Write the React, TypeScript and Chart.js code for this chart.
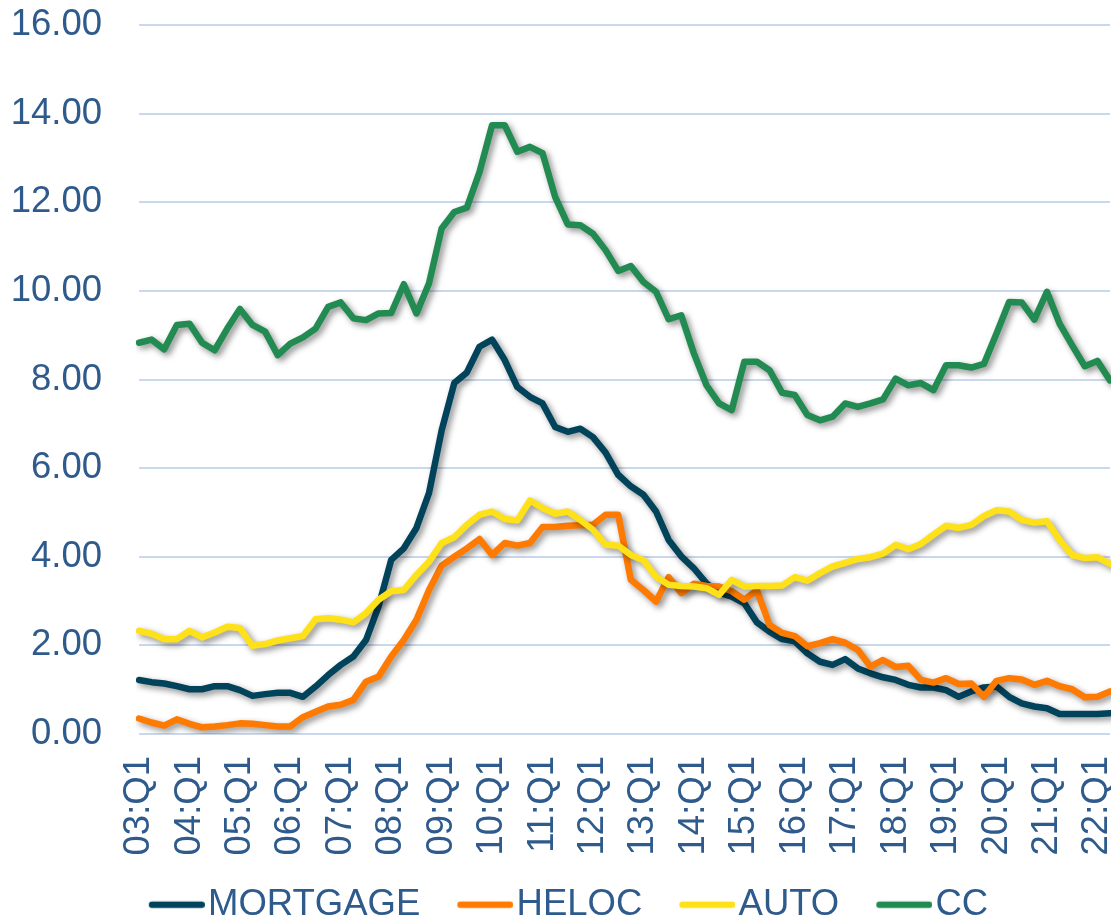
import { useEffect, useRef } from "react";
import { Chart, registerables } from "chart.js";

Chart.register(...registerables);

const years = ["03", "04", "05", "06", "07", "08", "09", "10", "11", "12", "13", "14", "15", "16", "17", "18", "19", "20", "21", "22"];
const quarterNames = ["Q1", "Q2", "Q3", "Q4"];
const categories = years.flatMap((y) => quarterNames.map((q) => `${y}:${q}`)).slice(0, 78);

const seriesNames = ["MORTGAGE", "HELOC", "AUTO", "CC"];

const mortgage = [
  1.22, 1.17, 1.14, 1.08, 1.01, 1.01, 1.08, 1.08, 0.99, 0.86,
  0.90, 0.93, 0.93, 0.84, 1.07, 1.33, 1.56, 1.75, 2.12, 2.88,
  3.93, 4.19, 4.65, 5.44, 6.85, 7.92, 8.16, 8.74, 8.90, 8.44,
  7.83, 7.61, 7.46, 6.93, 6.82, 6.89, 6.70, 6.35, 5.85, 5.59,
  5.40, 5.02, 4.38, 4.01, 3.74, 3.40, 3.19, 3.10, 2.95, 2.52,
  2.31, 2.14, 2.09, 1.82, 1.63, 1.56, 1.69, 1.48, 1.37, 1.28,
  1.22, 1.11, 1.05, 1.05, 0.99, 0.84, 0.96, 1.05, 1.07, 0.84,
  0.69, 0.62, 0.58, 0.45, 0.45, 0.45, 0.45, 0.47,
];

const heloc = [
  0.35, 0.26, 0.19, 0.33, 0.23, 0.15, 0.17, 0.20, 0.24, 0.23,
  0.20, 0.17, 0.17, 0.38, 0.50, 0.62, 0.66, 0.77, 1.18, 1.30,
  1.75, 2.12, 2.58, 3.25, 3.80, 4.00, 4.19, 4.40, 4.04, 4.31,
  4.25, 4.31, 4.67, 4.67, 4.70, 4.71, 4.72, 4.95, 4.95, 3.48,
  3.25, 2.99, 3.54, 3.18, 3.39, 3.34, 3.33, 3.22, 3.03, 3.24,
  2.46, 2.28, 2.21, 1.98, 2.05, 2.14, 2.06, 1.90, 1.52, 1.67,
  1.51, 1.54, 1.22, 1.16, 1.26, 1.13, 1.14, 0.84, 1.20, 1.26,
  1.23, 1.11, 1.20, 1.08, 1.01, 0.83, 0.84, 0.96,
];

const auto = [
  2.33, 2.26, 2.14, 2.14, 2.33, 2.18, 2.29, 2.42, 2.39, 1.99,
  2.03, 2.11, 2.16, 2.21, 2.59, 2.61, 2.58, 2.52, 2.73, 3.03,
  3.22, 3.25, 3.59, 3.89, 4.31, 4.44, 4.72, 4.95, 5.02, 4.85,
  4.82, 5.27, 5.10, 4.97, 5.02, 4.83, 4.61, 4.27, 4.25, 4.04,
  3.92, 3.55, 3.37, 3.34, 3.33, 3.29, 3.14, 3.48, 3.33, 3.34,
  3.34, 3.35, 3.54, 3.46, 3.63, 3.78, 3.86, 3.95, 3.99, 4.07,
  4.27, 4.17, 4.29, 4.50, 4.70, 4.65, 4.72, 4.92, 5.05, 5.02,
  4.83, 4.77, 4.80, 4.38, 4.04, 3.97, 3.99, 3.84,
];

const cc = [
  8.83, 8.90, 8.68, 9.23, 9.26, 8.83, 8.66, 9.15, 9.59, 9.23,
  9.08, 8.55, 8.81, 8.95, 9.15, 9.64, 9.74, 9.38, 9.34, 9.49,
  9.50, 10.15, 9.49, 10.17, 11.41, 11.78, 11.88, 12.68, 13.74, 13.74,
  13.14, 13.25, 13.11, 12.12, 11.50, 11.48, 11.29, 10.92, 10.45, 10.56,
  10.20, 9.98, 9.36, 9.45, 8.59, 7.87, 7.46, 7.31, 8.40, 8.40,
  8.21, 7.70, 7.65, 7.20, 7.08, 7.16, 7.46, 7.38, 7.46, 7.55,
  8.02, 7.87, 7.92, 7.76, 8.32, 8.32, 8.27, 8.35, 9.04, 9.75,
  9.74, 9.35, 9.98, 9.26, 8.77, 8.30, 8.42, 7.98,
];

const yTicks = [0, 2, 4, 6, 8, 10, 12, 14, 16];

const seriesValues = [mortgage, heloc, auto, cc];
const seriesColors = ["#00435B", "#FF7A00", "#FFE11A", "#228B52"];
const textColor = "#2F5B8C";
const gridColor = "#C9D8EC";
const fontFamily = "'Liberation Sans', Arial, Helvetica, sans-serif";
const FONT_SIZE = 36.5;

const LINE_W = 6.5;

// legend marker: box layout width 68, visible line occupies x+27 .. x+83
const LEG_BOX = 68;
const LEG_IMG_W = 98;
const LEG_LINE_START = 42;

function makeLegendImage(color: string): HTMLCanvasElement {
  const c = document.createElement("canvas");
  c.width = LEG_IMG_W;
  c.height = 10;
  const g = c.getContext("2d")!;
  g.strokeStyle = color;
  g.lineWidth = LINE_W;
  g.lineCap = "round";
  g.beginPath();
  g.moveTo(LEG_LINE_START + LINE_W / 2, 5);
  g.lineTo(LEG_IMG_W - LINE_W / 2, 5);
  g.stroke();
  return c;
}

const shadowPlugin = {
  id: "lineShadow",
  beforeDatasetDraw(chart: any) {
    const ctx = chart.ctx;
    ctx.save();
    ctx.shadowColor = "rgba(0,0,0,0.45)";
    ctx.shadowBlur = 6;
    ctx.shadowOffsetX = 3;
    ctx.shadowOffsetY = 3;
  },
  afterDatasetDraw(chart: any) {
    chart.ctx.restore();
  },
};

export default function App() {
  const canvasRef = useRef<HTMLCanvasElement>(null);

  useEffect(() => {
    if (!canvasRef.current) return;
    const legendImages = seriesColors.map((c) => makeLegendImage(c));
    const chart = new Chart(canvasRef.current, {
      type: "line",
      data: {
        labels: categories,
        datasets: seriesNames.map((name, i) => ({
          label: name,
          data: seriesValues[i],
          borderColor: seriesColors[i],
          backgroundColor: seriesColors[i],
          borderWidth: LINE_W,
          borderJoinStyle: "round" as const,
          borderCapStyle: "round" as const,
          pointRadius: 0,
          pointHoverRadius: 0,
          tension: 0,
          fill: false,
          order: seriesNames.length - i,
        })),
      },
      options: {
        animation: false,
        responsive: true,
        maintainAspectRatio: false,
        layout: { padding: { left: 0, right: 1, top: 25, bottom: -12 } },
        plugins: {
          tooltip: { enabled: false },
          legend: {
            position: "bottom",
            labels: {
              usePointStyle: true,
              pointStyleWidth: LEG_BOX,
              padding: 10,
              color: textColor,
              font: { family: fontFamily, size: FONT_SIZE },
              generateLabels: (ch: any) =>
                ch.data.datasets.map((ds: any, i: number) => ({
                  text: ds.label,
                  fillStyle: ds.borderColor,
                  strokeStyle: ds.borderColor,
                  lineWidth: 0,
                  pointStyle: legendImages[i],
                  hidden: false,
                  datasetIndex: i,
                  fontColor: textColor,
                })),
            },
          },
        },
        scales: {
          x: {
            type: "category",
            offset: false,
            grid: { display: false, drawTicks: false },
            border: { display: false },
            ticks: {
              autoSkip: false,
              maxRotation: 90,
              minRotation: 90,
              padding: 22,
              color: textColor,
              font: { family: fontFamily, size: FONT_SIZE },
              callback: (_v: any, idx: number) => {
                const l = categories[idx];
                return l.endsWith("Q1") ? l : "";
              },
            },
            afterFit: (scale: any) => {
              scale.paddingLeft = 0;
              scale.paddingRight = 0;
              scale.height = 142.5;
            },
          },
          y: {
            min: yTicks[0],
            max: yTicks[yTicks.length - 1],
            grid: { color: gridColor, lineWidth: 2, drawTicks: false },
            border: { display: false },
            afterBuildTicks: (scale: any) => {
              scale.ticks = yTicks.map((v) => ({ value: v }));
            },
            afterFit: (scale: any) => {
              scale.width = 139;
              scale.paddingTop = 0;
              scale.paddingBottom = 0;
            },
            ticks: {
              padding: 37,
              color: textColor,
              font: { family: fontFamily, size: FONT_SIZE },
              callback: (v: any) => Number(v).toFixed(2),
            },
          },
        },
      },
      plugins: [shadowPlugin],
    } as any);
    return () => chart.destroy();
  }, []);

  return (
    <div style={{ position: "absolute", left: 0, top: 0, width: 1111, height: 921 }}>
      <canvas ref={canvasRef} />
    </div>
  );
}
